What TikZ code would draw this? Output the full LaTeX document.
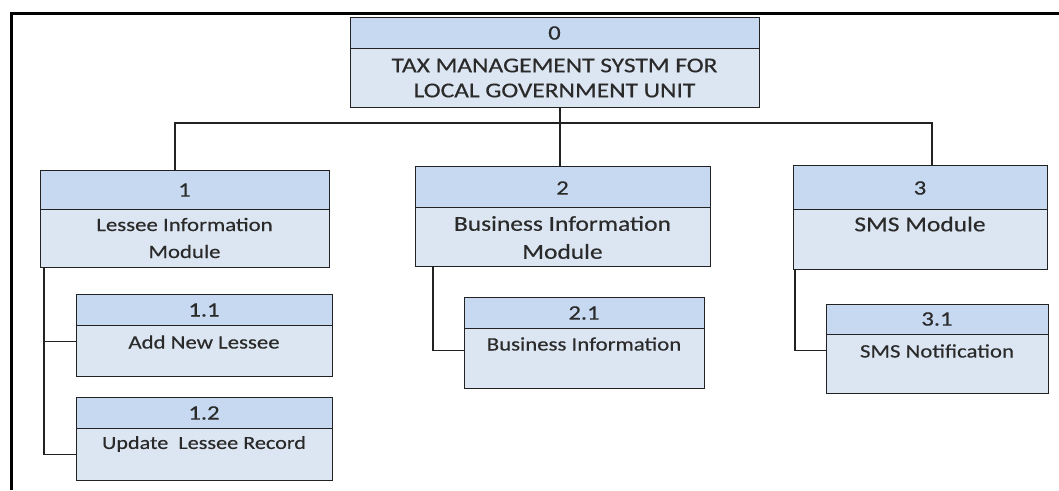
\documentclass[tikz,border=0pt]{standalone}
\usepackage{fontspec}
\setmainfont[FakeStretch=1.2,FakeBold=0.4]{Carlito}
\definecolor{hdrc}{HTML}{C6D9F1}
\definecolor{bdyc}{HTML}{DCE6F2}
\definecolor{txtc}{HTML}{2A2A2A}
\definecolor{linec}{HTML}{222222}
\begin{document}
\begin{tikzpicture}[x=1pt,y=-1pt,
  hdr/.style={draw=linec, line width=1.3pt, fill=hdrc, inner sep=0pt, anchor=north west},
  bdy/.style={draw=linec, line width=1.3pt, fill=bdyc, inner sep=0pt, anchor=north west},
  lbl/.style={text=txtc, align=center, inner sep=0pt},
  num/.style={font=\fontsize{20.5}{26}\selectfont},
  big/.style={font=\fontsize{21.2}{26}\selectfont},
  small/.style={font=\fontsize{19}{27}\selectfont},
  conn/.style={draw=linec, line width=1.3pt}]
\useasboundingbox (0,0) rectangle (1059,490);
\fill[white] (0,0) rectangle (1059,490);
\draw[line width=3pt] (1059,13) -- (11,13) -- (11,490);

% root
\node[hdr, minimum width=409pt, minimum height=31pt] (r0h) at (350,17) {};
\node[bdy, minimum width=409pt, minimum height=59pt] (r0b) at (350,48) {};
\node[lbl, num] (t0n) at (554.5,33) {0};
\node[lbl, font=\fontsize{21.2}{25}\selectfont] (t0t) at (554.5,78) {TAX MANAGEMENT SYSTM FOR\\LOCAL GOVERNMENT UNIT};

% level 1
\node[hdr, minimum width=289pt, minimum height=39pt] (b1h) at (40,170) {};
\node[bdy, minimum width=289pt, minimum height=58pt] (b1b) at (40,209) {};
\node[lbl, num] (t1n) at (184.5,190) {1};
\node[lbl, small] (t1t) at (184.5,238) {Lessee Information\\Module};

\node[hdr, minimum width=295pt, minimum height=41pt] (b2h) at (415,166) {};
\node[bdy, minimum width=295pt, minimum height=59pt] (b2b) at (415,207) {};
\node[lbl, num] (t2n) at (562.5,188) {2};
\node[lbl, font=\fontsize{21.2}{28}\selectfont] (t2t) at (562.5,237.5) {Business Information\\Module};

\node[hdr, minimum width=254pt, minimum height=44pt] (b3h) at (793,165) {};
\node[bdy, minimum width=254pt, minimum height=60pt] (b3b) at (793,209) {};
\node[lbl, num] (t3n) at (920,188) {3};
\node[lbl, big] (t3t) at (920,224) {SMS Module};

% level 2
\node[hdr, minimum width=256pt, minimum height=31pt] (b11h) at (76,294) {};
\node[bdy, minimum width=256pt, minimum height=51pt] (b11b) at (76,325) {};
\node[lbl, num] (t11n) at (204,310) {1.1};
\node[lbl, small] (t11t) at (204,342) {Add New Lessee};

\node[hdr, minimum width=256pt, minimum height=31pt] (b12h) at (76,397) {};
\node[bdy, minimum width=256pt, minimum height=52pt] (b12b) at (76,428) {};
\node[lbl, num] (t12n) at (204,413) {1.2};
\node[lbl, font=\fontsize{18.5}{27}\selectfont] (t12t) at (204,444) {Update\ \ Lessee Record};

\node[hdr, minimum width=240pt, minimum height=31pt] (b21h) at (464,297) {};
\node[bdy, minimum width=240pt, minimum height=60pt] (b21b) at (464,328) {};
\node[lbl, num] (t21n) at (584,313) {2.1};
\node[lbl, small] (t21t) at (584,344) {Business Information};

\node[hdr, minimum width=222pt, minimum height=30pt] (b31h) at (826,304) {};
\node[bdy, minimum width=222pt, minimum height=59pt] (b31b) at (826,334) {};
\node[lbl, num] (t31n) at (937,319) {3.1};
\node[lbl, small] (t31t) at (937,351) {SMS Notification};

% connectors
\coordinate (bus1) at (175,123);
\coordinate (bus2) at (560,123);
\coordinate (bus3) at (932,123);
\draw[conn] (r0b.south -| bus2) -- (bus2);
\draw[conn] (b1h.north -| bus1) |- (bus3) -- (b3h.north -| bus3);
\draw[conn] (bus2) -- (b2h.north -| bus2);

\coordinate (s1) at (44,0);
\coordinate (s2) at (433,0);
\coordinate (s3) at (795,0);
\draw[conn] (b1b.south -| s1) |- (b12b.west);
\draw[conn] (s1 |- b11b.west) ++(0,-9.5) -- ([yshift=9.5pt]b11b.west);
\draw[conn] (b2b.south -| s2) |- ([yshift=8pt]b21b.west);
\draw[conn] (b3b.south -| s3) |- ([yshift=13.5pt]b31b.west);
\end{tikzpicture}
\end{document}
